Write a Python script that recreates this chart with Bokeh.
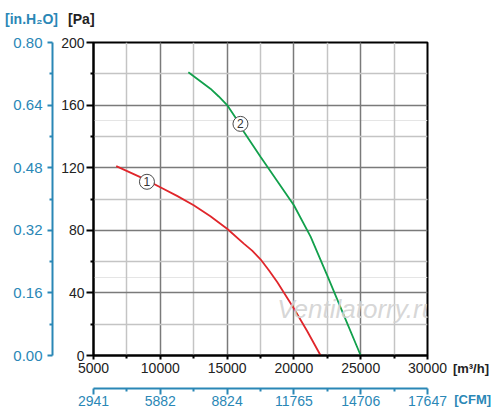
from bokeh.plotting import figure
from bokeh.models import (LinearAxis, Range1d, FixedTicker, NumeralTickFormatter,
                          Label, Grid, ColumnDataSource)
from bokeh.core.properties import value
from bokeh.embed import file_html
from bokeh.resources import INLINE

# ---- data ----
flow_1 = [6700, 8750, 10000, 11250, 12500, 13750, 15000, 16250, 16875, 17500, 18125,
          18750, 20000, 21000, 22000]
pressure_1 = [121, 113, 107.5, 102, 96, 89, 81, 71.5, 67, 61.5, 54.5, 47, 30, 15.5, 0]
flow_2 = [12100, 13750, 14375, 15000, 15625, 16250, 17500, 18750, 20000, 21250, 22500,
          23750, 25000]
pressure_2 = [181, 170.5, 165.5, 160, 152, 143, 127, 111.5, 96, 76, 51, 25.5, 0]

curve_names = ["1", "2"]
name_flow = [9000, 16000]
name_pressure = [111, 148]

pa_ticks = [0, 40, 80, 120, 160, 200]
pa_minor = [20, 60, 100, 140, 180]
inh2o_ticks = [0.0, 0.16, 0.32, 0.48, 0.64, 0.80]
inh2o_minor = [0.08, 0.24, 0.40, 0.56, 0.72]
m3h_ticks = [5000, 10000, 15000, 20000, 25000, 30000]
m3h_minor = [7500, 12500, 17500, 22500, 27500]
cfm_ticks = [2941, 5882, 8824, 11765, 14706, 17647]

BLUE = "#2a87b6"
DARK = "#222222"
FONT = "Liberation Sans"

p = figure(width=500, height=418,
           x_range=Range1d(m3h_ticks[0], m3h_ticks[-1]),
           y_range=Range1d(pa_ticks[0], pa_ticks[-1]),
           output_backend="svg", toolbar_location=None,
           x_axis_location=None, y_axis_location=None,
           min_border_left=93, min_border_right=73,
           min_border_top=42, min_border_bottom=63)
p.outline_line_color = "black"
p.outline_line_width = 2
p.background_fill_color = "white"
p.border_fill_color = "white"

p.extra_y_ranges = {"inh2o": Range1d(inh2o_ticks[0], inh2o_ticks[-1])}
p.extra_x_ranges = {"cfm": Range1d(cfm_ticks[0], cfm_ticks[-1])}

x_ticker = FixedTicker(ticks=m3h_ticks, minor_ticks=m3h_minor)
y_ticker = FixedTicker(ticks=pa_ticks, minor_ticks=pa_minor)

for dim, tk in ((0, x_ticker), (1, y_ticker)):
    p.add_layout(Grid(dimension=dim, ticker=tk,
                      grid_line_color="#7a7a7a", grid_line_width=1.5,
                      minor_grid_line_color="#c4c4c4", minor_grid_line_width=1.5))

def style_axis(ax, color, label_color, tick_out, standoff, fsize):
    ax.axis_line_color = color
    ax.axis_line_width = 2
    ax.major_tick_line_color = color
    ax.major_tick_line_width = 2
    ax.minor_tick_line_color = color
    ax.minor_tick_line_width = 2
    ax.major_tick_in = 0
    ax.minor_tick_in = 0
    ax.major_tick_out = tick_out
    ax.minor_tick_out = 3
    ax.major_label_standoff = standoff
    ax.major_label_text_font = FONT
    ax.major_label_text_font_size = fsize
    ax.major_label_text_color = label_color

pa_axis = LinearAxis(ticker=y_ticker, axis_label=" ",
                     axis_label_text_font_size="2px", axis_label_standoff=0)
style_axis(pa_axis, "black", DARK, 7, 2, "14px")
p.add_layout(pa_axis, "left")

in_axis = LinearAxis(y_range_name="inh2o",
                     ticker=FixedTicker(ticks=inh2o_ticks, minor_ticks=inh2o_minor),
                     formatter=NumeralTickFormatter(format="0.00"))
style_axis(in_axis, BLUE, BLUE, 5, 5, "15px")
p.add_layout(in_axis, "left")

m3h_axis = LinearAxis(ticker=x_ticker, axis_label=" ",
                      axis_label_text_font_size="4px", axis_label_standoff=5)
style_axis(m3h_axis, "black", DARK, 4, 3, "14px")
p.add_layout(m3h_axis, "below")

cfm_minor = [(a + b) / 2 for a, b in zip(cfm_ticks[:-1], cfm_ticks[1:])]
cfm_axis = LinearAxis(x_range_name="cfm",
                      ticker=FixedTicker(ticks=cfm_ticks, minor_ticks=cfm_minor))
style_axis(cfm_axis, BLUE, BLUE, 6, 1, "14px")
p.add_layout(cfm_axis, "below")

# ---- curves ----
p.line(flow_1, pressure_1, line_color="#e0262b", line_width=1.8)
p.line(flow_2, pressure_2, line_color="#12a04c", line_width=1.8)

src = ColumnDataSource(dict(x=name_flow, y=name_pressure, t=curve_names))
p.scatter("x", "y", source=src, size=15, fill_color="white",
          line_color="#4a4a4a", line_width=1)
p.text("x", "y", text="t", source=src, text_align="center", text_baseline="middle",
       text_font=value(FONT), text_font_size="12px", text_color="#333333")

# watermark
p.text(x=[24700], y=[30], text=["Ventilatorry.ru"], text_align="center",
       text_baseline="middle", text_font=value(FONT), text_font_style="italic",
       text_font_size="26px", text_color="#d2d2d2", text_alpha=0.9)

# ---- unit labels (in side panels, so they are drawn outside the frame) ----
def unit(text, x, y, color, side, size):
    p.add_layout(Label(x=x, y=y, text=text, text_font=FONT, text_font_size=size,
                       text_font_style="bold", text_color=color,
                       text_baseline="middle", text_align="left"), side)

unit("[in.H\u2082O]", -1620, 215, BLUE, "above", "14px")
unit("[Pa]", 3100, 215, DARK, "above", "14px")
unit("[m\u00b3/h]", 31900, -8.3, DARK, "right", "13px")
unit("[CFM]", 32000, -28.2, BLUE, "right", "13px")

open("out.html", "w").write(file_html(p, INLINE))
